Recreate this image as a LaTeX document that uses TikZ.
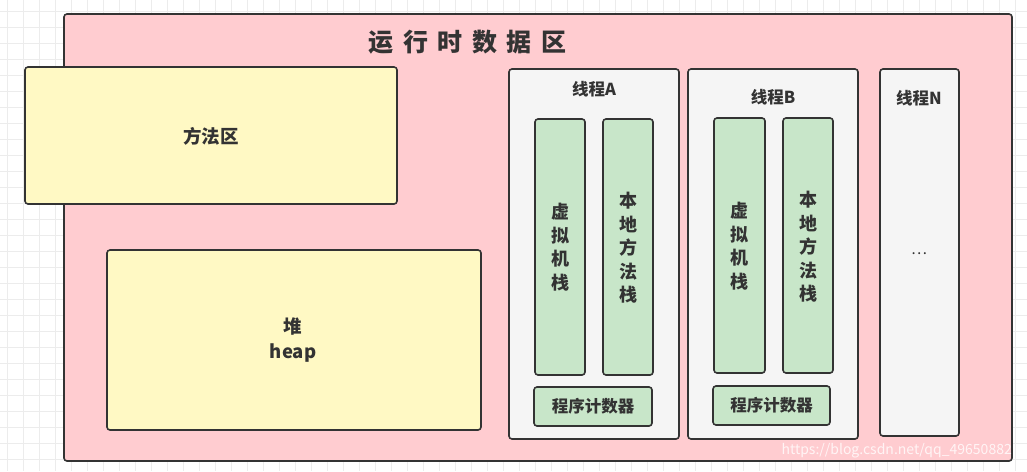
\documentclass[tikz,border=0pt]{standalone}
\usepackage{fontspec}
\setmainfont{Noto Sans CJK SC}
\definecolor{pinkfill}{RGB}{255,204,208}
\definecolor{yellowfill}{RGB}{255,249,196}
\definecolor{greyfill}{RGB}{245,245,245}
\definecolor{greenfill}{RGB}{200,230,201}
\definecolor{edge}{RGB}{51,51,51}
\definecolor{gridc}{RGB}{236,236,236}
\newcommand{\tsp}{\hspace{9.5pt}}
\begin{document}
\begin{tikzpicture}[x=1pt,y=-1pt,
  boxs/.style={draw=edge,line width=1.6pt,rounded corners=3pt},
  lbl/.style={font=\fontsize{16.5}{20}\selectfont\bfseries,text=edge,align=center,inner sep=0pt},
  vlbl/.style={font=\fontsize{18}{23.5}\selectfont\bfseries,text=edge,align=center,inner sep=0pt},
  pclbl/.style={font=\fontsize{16.5}{20}\selectfont\bfseries,text=edge,inner sep=0pt}]
\useasboundingbox (0,0) rectangle (1027,471);
\fill[white] (0,0) rectangle (1027,471);
\foreach \i in {0,...,64} {\draw[gridc,line width=0.8pt] (7+16*\i,0) -- (7+16*\i,471);}
\foreach \j in {0,...,29} {\draw[gridc,line width=0.8pt] (0,11+16*\j) -- (1027,11+16*\j);}
% outer
\draw[boxs,fill=pinkfill] (64,14) rectangle (1012,461);
\node[lbl,font=\fontsize{25}{28}\selectfont\bfseries] (title) at (467.5,42) {运\tsp 行\tsp 时\tsp 数\tsp 据\tsp 区};
% method area
\draw[boxs,fill=yellowfill] (25,67) rectangle (397,204);
\node[lbl,font=\fontsize{18.5}{22}\selectfont\bfseries] (method) at (211,136) {方法区};
% heap
\draw[boxs,fill=yellowfill] (107,250) rectangle (481,430);
\node[lbl,font=\fontsize{18.5}{25}\selectfont\bfseries] (heap) at (293,340) {堆\\heap};
% thread A
\draw[boxs,fill=greyfill] (509,69) rectangle (679,439);
\node[lbl] (tA) at (594,89) {线程A};
\draw[boxs,fill=greenfill] (535,119) rectangle (585,375);
\node[vlbl] (vmA) at (560,247) {虚\\拟\\机\\栈};
\draw[boxs,fill=greenfill] (603,119) rectangle (653,375);
\node[vlbl] (nmA) at (628,248) {本\\地\\方\\法\\栈};
\draw[boxs,fill=greenfill] (534,387) rectangle (652,426);
\node[pclbl] (pcA) at (593,406.5) {程序计数器};
% thread B
\draw[boxs,fill=greyfill] (688,69) rectangle (858,439);
\node[lbl] (tB) at (773,97) {线程B};
\draw[boxs,fill=greenfill] (714,118) rectangle (765,373);
\node[vlbl] (vmB) at (739.5,246) {虚\\拟\\机\\栈};
\draw[boxs,fill=greenfill] (783,118) rectangle (833,373);
\node[vlbl] (nmB) at (808,247) {本\\地\\方\\法\\栈};
\draw[boxs,fill=greenfill] (713,386) rectangle (830,425);
\node[pclbl] (pcB) at (771.5,405.5) {程序计数器};
% thread N
\draw[boxs,fill=greyfill] (880,69) rectangle (959,436);
\node[lbl] (tN) at (919,98) {线程N};
\node[font=\fontsize{15}{16}\selectfont,text=edge] (dots) at (919,254) {…};
% watermark
\node[anchor=east,text=white,opacity=0.8,font=\fontsize{14}{15}\selectfont,inner sep=0pt] (wm) at (1012,451) {https://blog.csdn.net/qq\_49650882};
\end{tikzpicture}
\end{document}
